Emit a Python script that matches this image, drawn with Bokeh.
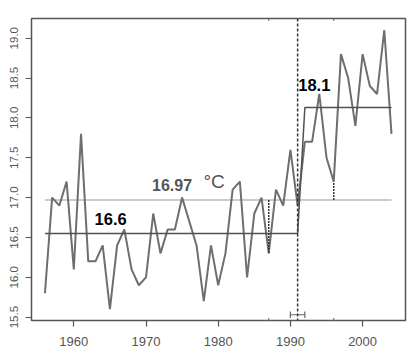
from bokeh.plotting import figure
from bokeh.models import FixedTicker, CustomJSTickFormatter, Span, Label, Range1d
from bokeh.embed import file_html
from bokeh.resources import INLINE

years = list(range(1956, 2005))
temps = [15.8, 17.0, 16.9, 17.2, 16.1, 17.8, 16.2, 16.2, 16.4, 15.6,
         16.4, 16.6, 16.1, 15.9, 16.0, 16.8, 16.3, 16.6, 16.6, 17.0,
         16.7, 16.4, 15.7, 16.4, 15.9, 16.3, 17.1, 17.2, 16.0, 16.8,
         17.0, 16.3, 17.1, 16.9, 17.6, 16.9, 17.7, 17.7, 18.3, 17.5,
         17.2, 18.8, 18.5, 17.9, 18.8, 18.4, 18.3, 19.1, 17.8]

overall_mean = 16.97
mean_before = 16.55
mean_after = 18.13
change_year = 1991
change_ci = [1990, 1992]
step_x = [1956, 1991, 1992, 2004]
step_y = [mean_before, mean_before, mean_after, mean_after]
marked_years = [1987, 1996]

x_ticks = [1960, 1970, 1980, 1990, 2000]
y_ticks = [15.5, 16.0, 16.5, 17.0, 17.5, 18.0, 18.5, 19.0]

label_before = "16.6"
label_after = "18.1"
label_mean = "16.97"
label_unit = "°C"

FONT = "Liberation Sans"
AX = "#555555"
Y0, Y1 = 15.458, 19.247

p = figure(width=420, height=351, output_backend="svg", toolbar_location=None,
           x_range=Range1d(1954.14, 2005.94), y_range=Range1d(Y0, Y1),
           min_border_left=31, min_border_right=15, min_border_top=18,
           min_border_bottom=31)
p.background_fill_color = "white"
p.border_fill_color = "white"
p.outline_line_color = AX
p.outline_line_width = 1.5
p.grid.visible = False

for ax in (p.xaxis[0], p.yaxis[0]):
    ax.axis_line_color = None
    ax.major_tick_in = 0
    ax.major_tick_out = 6
    ax.major_tick_line_color = AX
    ax.major_tick_line_width = 1.2
    ax.minor_tick_line_color = None
    ax.major_label_text_color = AX
    ax.major_label_text_font = FONT

p.xaxis[0].ticker = FixedTicker(ticks=x_ticks)
p.yaxis[0].ticker = FixedTicker(ticks=y_ticks)
p.xaxis[0].major_label_text_font_size = "13px"
p.xaxis[0].major_label_standoff = 10
p.yaxis[0].major_label_text_font_size = "11.5px"
p.yaxis[0].major_label_standoff = 7
p.yaxis[0].major_label_orientation = "vertical"
p.yaxis[0].formatter = CustomJSTickFormatter(code="return tick.toFixed(1);")

# overall mean line
p.line([years[0], years[-1]], [overall_mean, overall_mean], line_color="#9a9a9a", line_width=1.2)

# data series
p.line(years, temps, line_color="#6e6e6e", line_width=2)

# step of the two means
p.line(step_x, step_y, line_color="#505050", line_width=1.5)

# residual markers and their small rug ticks on the frame
for yr in marked_years:
    v = temps[years.index(yr)]
    p.line([yr, yr], [overall_mean, v], line_color="#333333", line_width=1.5, line_dash="2 1")
    p.line([yr, yr], [Y1 - 0.03, Y1], line_color="#777777", line_width=1.2)
    p.line([yr, yr], [Y0, Y0 + 0.03], line_color="#777777", line_width=1.2)

# change point line
p.add_layout(Span(location=change_year, dimension="height", line_color="#333333",
                  line_width=1.5, line_dash="3 2"))

# confidence interval of the change point
ci_y = 15.53
p.line(change_ci, [ci_y, ci_y], line_color="#666666", line_width=1.2)
for cx in change_ci:
    p.line([cx, cx], [ci_y - 0.04, ci_y + 0.04], line_color="#666666", line_width=1.2)

p.add_layout(Label(x=1962.87, y=16.66, text=label_before, text_font=FONT,
                   text_font_style="bold", text_font_size="16.5px", text_color="black"))
p.add_layout(Label(x=1991.08, y=18.34, text=label_after, text_font=FONT,
                   text_font_style="bold", text_font_size="16.5px", text_color="black"))
p.add_layout(Label(x=1970.83, y=17.08, text=label_mean, text_font=FONT,
                   text_font_style="bold", text_font_size="16px", text_color="#555555"))
p.add_layout(Label(x=1977.96, y=17.07, text=label_unit, text_font=FONT,
                   text_font_size="19px", text_color="#555555"))

open("out.html", "w").write(file_html(p, INLINE))
